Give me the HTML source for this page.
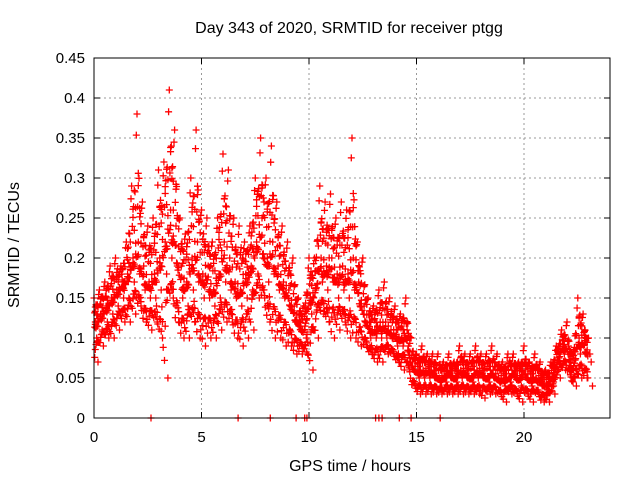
<!DOCTYPE html>
<html><head><meta charset="utf-8"><style>
body{margin:0;background:#fff;font-family:"Liberation Sans",sans-serif}
svg text{font-family:"Liberation Sans",sans-serif;font-size:15px;fill:#000}
svg text.big{font-size:16px}
</style></head><body>
<svg id="c" width="640" height="480">
<text class="big" x="349" y="33" text-anchor="middle">Day 343 of 2020, SRMTID for receiver ptgg</text>
<text class="big" x="350" y="471" text-anchor="middle">GPS time / hours</text>
<text class="big" transform="translate(19,245) rotate(-90)" text-anchor="middle">SRMTID / TECUs</text>
<g id="grid"></g><g id="pts"></g>
<rect x="94" y="58" width="516" height="360" fill="none" stroke="#000" stroke-width="1"/>
</svg>
<script>
const xTicks=[0,5,10,15,20];
const yTicks=[0,0.05,0.1,0.15,0.2,0.25,0.3,0.35,0.4,0.45];
const yTickLabels=["0","0.05","0.1","0.15","0.2","0.25","0.3","0.35","0.4","0.45"];
const step=0.25;
const hi=[.15,.16,.17,.19,.2,.19,.22,.29,.38,.27,.24,.25,.31,.32,.41,.36,.25,.23,.3,.36,.26,.25,.22,.25,.33,.31,.25,.24,.22,.24,.3,.35,.3,.34,.27,.24,.22,.2,.15,.14,.2,.2,.29,.27,.28,.25,.27,.26,.35,.22,.2,.15,.14,.16,.17,.15,.14,.13,.15,.1,.08,.09,.08,.08,.08,.07,.08,.07,.09,.08,.08,.09,.08,.08,.09,.08,.07,.08,.08,.07,.09,.07,.08,.07,.06,.07,.09,.11,.12,.08,.15,.13,.1];
const mid1=[.12,.13,.14,.15,.16,.17,.18,.2,.22,.19,.17,.18,.2,.22,.26,.24,.19,.17,.2,.22,.18,.19,.16,.18,.22,.2,.17,.16,.18,.19,.22,.25,.2,.22,.19,.17,.16,.14,.12,.11,.15,.16,.2,.19,.2,.18,.19,.18,.2,.17,.14,.12,.11,.12,.12,.11,.11,.1,.11,.07,.06,.06,.06,.06,.05,.05,.06,.05,.06,.06,.05,.06,.06,.05,.06,.05,.05,.05,.06,.05,.06,.05,.05,.05,.04,.05,.07,.09,.09,.06,.1,.1,.08];
const mid2=[.1,.11,.12,.13,.14,.15,.15,.17,.18,.16,.15,.15,.16,.18,.2,.19,.15,.14,.16,.17,.15,.15,.14,.15,.17,.16,.15,.14,.15,.16,.18,.2,.17,.18,.16,.15,.14,.12,.11,.1,.13,.14,.17,.16,.17,.15,.16,.15,.16,.14,.12,.1,.1,.1,.1,.1,.09,.09,.09,.06,.05,.05,.05,.05,.045,.045,.05,.045,.05,.05,.045,.05,.05,.045,.05,.045,.04,.045,.05,.04,.05,.04,.045,.04,.035,.04,.06,.08,.08,.05,.08,.08,.07];
const lo=[.07,.09,.1,.1,.11,.12,.12,.13,.14,.12,.11,.12,.1,.05,.15,.12,.1,.1,.12,.1,.09,.1,.1,.11,.12,.12,.1,.09,.1,.11,.15,.15,.12,.1,.1,.09,.09,.08,.08,.08,.06,.1,.13,.12,.1,.11,.12,.1,.1,.09,.09,.08,.07,.07,.08,.08,.07,.06,.07,.04,.03,.03,.03,.03,.03,.03,.03,.03,.03,.03,.03,.03,.025,.03,.03,.03,.02,.03,.03,.02,.03,.02,.03,.02,.02,.03,.05,.06,.06,.04,.05,.05,.04];
const zeroTimes=[2.65,6.7,8.2,9.4,9.8,9.9,13.1,13.25,13.4,14.2,14.75,16.1];
const X=v=>94+v*21.5, Y=v=>418-v*800;
const ns="http://www.w3.org/2000/svg",svg=document.getElementById('c'),grid=document.getElementById('grid'),pts=document.getElementById('pts');
function mk(t,a,p){const e=document.createElementNS(ns,t);for(const k in a)e.setAttribute(k,a[k]);p.appendChild(e);return e;}
xTicks.forEach(v=>{
 const l=mk('line',{x1:X(v),x2:X(v),y1:58,y2:418,stroke:'#999','stroke-dasharray':'2,3'},grid);
 
 
 mk('line',{x1:X(v),x2:X(v),y1:418,y2:412,stroke:'#000'},grid);
 mk('line',{x1:X(v),x2:X(v),y1:58,y2:64,stroke:'#000'},grid);
 const t=mk('text',{x:X(v),y:442,'text-anchor':'middle'},svg);t.textContent=v;
 
 
});
yTicks.forEach((v,i)=>{
 const l=mk('line',{x1:94,x2:610,y1:Y(v),y2:Y(v),stroke:'#999','stroke-dasharray':'2,3'},grid);
 
 
 mk('line',{x1:94,x2:100,y1:Y(v),y2:Y(v),stroke:'#000'},grid);
 mk('line',{x1:604,x2:610,y1:Y(v),y2:Y(v),stroke:'#000'},grid);
 const t=mk('text',{x:85,y:Y(v)+5,'text-anchor':'end'},svg);t.textContent=yTickLabels[i];
 
 
});
let d='';
function plus(t,v){
 const x=X(t),y=Y(v);
 d+=`M${(x-3.5).toFixed(1)},${y.toFixed(1)}h7M${x.toFixed(1)},${(y-3.5).toFixed(1)}v7`;
}
const S=[hi,mid1,mid2,lo];
S.forEach((s,k)=>s.forEach((v,i)=>plus(i*step+k*0.0625,v)));
// blended fill points between neighbouring series and time steps
for(let i=0;i<hi.length-1;i++){
 for(let f=1;f<8;f++){
  const a=f/8;
  for(let k=0;k<3;k++){
   const s1=S[k],s2=S[k+1];
   const v1=s1[i]*(1-a)+s2[i+1]*a;
   const v2=s2[i]*(1-a)+s1[i+1]*a;
   const w=(k*0.37+f*0.29)%1;
   plus(i*step+a*step,v1*w+v2*(1-w));
  }
  if(f%2==0) plus(i*step+a*step,(hi[i]*(1-a)+mid1[i+1]*a)*0.92);
 }
}
zeroTimes.forEach(t=>plus(t,0));
const p=mk('path',{d:d,stroke:'#f00','stroke-width':1.3,fill:'none'},pts);


</script>
</body></html>
